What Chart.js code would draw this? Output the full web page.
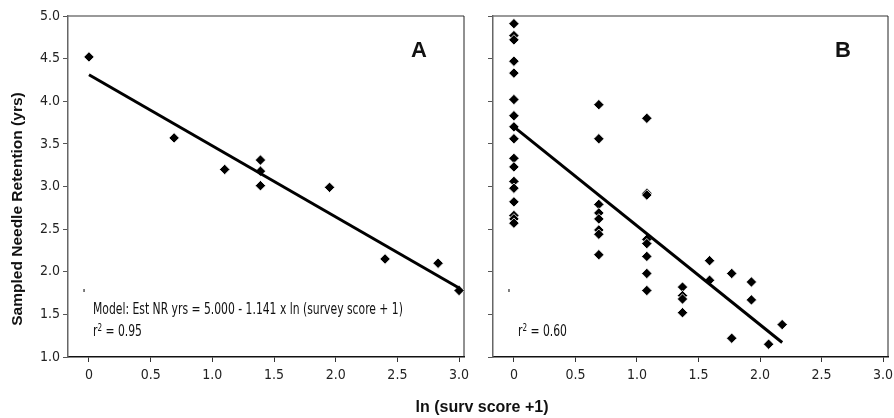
<!DOCTYPE html>
<html>
<head>
<meta charset="utf-8">
<script src="https://cdn.jsdelivr.net/npm/chart.js@4.4.1/dist/chart.umd.min.js"></script>
<style>
  html, body { margin: 0; padding: 0; background: #fff; }
  #wrap { position: relative; width: 894px; height: 418px; overflow: hidden; }
  #chartA { position: absolute; left: 0; top: 0; }
  #chartB { position: absolute; left: 470px; top: 0; }
  #xTitle {
    position: absolute; left: 0; width: 964px; top: 398px; text-align: center;
    font: bold 16px "Liberation Sans", Arial, sans-serif; color: #111;
  }
  #yTitle {
    position: absolute; left: 17px; top: 209px; width: 300px; margin-left: -150px;
    text-align: center; line-height: 18px; margin-top: -9px;
    transform: rotate(-90deg);
    font: bold 15.5px "Liberation Sans", Arial, sans-serif; color: #111;
  }
</style>
</head>
<body>
<div id="wrap">
  <canvas id="chartA" width="470" height="418"></canvas>
  <canvas id="chartB" width="424" height="418"></canvas>
  <div id="yTitle">Sampled Needle Retention (yrs)</div>
  <div id="xTitle">ln (surv score +1)</div>
</div>
<script>
// Panel A: one value per site
const aScore = [0, 0.69, 1.10, 1.39, 1.39, 1.39, 1.95, 2.40, 2.83, 3.00];
const aRetention = [4.52, 3.57, 3.20, 3.31, 3.18, 3.01, 2.99, 2.15, 2.10, 1.78];
const aFitX = [0, 3.0];
const aFitY = [4.31, 1.81];

// Panel B: individual trees
const bScore = [
  0, 0, 0, 0, 0, 0, 0, 0, 0, 0, 0, 0, 0, 0, 0, 0, 0,
  0.69, 0.69, 0.69, 0.69, 0.69, 0.69, 0.69, 0.69,
  1.08, 1.08, 1.08, 1.08, 1.08, 1.08, 1.08, 1.08,
  1.37, 1.37, 1.37, 1.37,
  1.59, 1.59,
  1.77, 1.77,
  1.93, 1.93,
  2.07,
  2.18
];
const bRetention = [
  4.91, 4.77, 4.72, 4.47, 4.33, 4.02, 3.83, 3.70, 3.56, 3.33, 3.23, 3.06, 2.98, 2.82, 2.66, 2.62, 2.57,
  3.96, 3.56, 2.79, 2.69, 2.62, 2.49, 2.44, 2.20,
  3.80, 2.92, 2.90, 2.38, 2.33, 2.18, 1.98, 1.78,
  1.82, 1.72, 1.68, 1.52,
  2.13, 1.90,
  1.98, 1.22,
  1.88, 1.67,
  1.15,
  1.38
];
const bFitX = [0, 2.18];
const bFitY = [3.70, 1.17];

const xTicks = [0, 0.5, 1.0, 1.5, 2.0, 2.5, 3.0];
const yTicks = [1.0, 1.5, 2.0, 2.5, 3.0, 3.5, 4.0, 4.5, 5.0];

// stray anchor dash near the lower left of each panel
const dashX = [-0.04];
const dashY = [1.78];

const narrow = '"Liberation Sans Narrow", "DejaVu Sans Condensed", Arial, sans-serif';
const bold = '"Liberation Sans", Arial, sans-serif';
const squeeze = 0.8;

function pairs(xs, ys) {
  return xs.map((x, i) => ({ x: x, y: ys[i] }));
}

// draws "r² = value" starting at x, centred on y
function drawR2(ctx, x, y, value) {
  ctx.save();
  ctx.translate(x, y);
  ctx.scale(squeeze, 1);
  ctx.textBaseline = 'middle';
  ctx.textAlign = 'left';
  ctx.font = '15px ' + narrow;
  ctx.fillText('r', 0, 0);
  let w = ctx.measureText('r').width;
  ctx.font = '10px ' + narrow;
  ctx.fillText('2', w, -4);
  w += ctx.measureText('2').width;
  ctx.font = '15px ' + narrow;
  ctx.fillText(' = ' + value, w, 0);
  ctx.restore();
}

function panelPlugin(letter, model, r2) {
  return {
    id: 'panelText' + letter,
    beforeDatasetsDraw(chart) {
      const { ctx, chartArea: a } = chart;
      ctx.save();
      // top and right edges of the frame
      ctx.strokeStyle = '#777';
      ctx.lineWidth = 1.5;
      ctx.beginPath();
      ctx.moveTo(a.left, a.top);
      ctx.lineTo(a.right, a.top);
      ctx.stroke();
      ctx.strokeStyle = '#222';
      ctx.lineWidth = 1;
      ctx.beginPath();
      ctx.moveTo(a.right, a.top);
      ctx.lineTo(a.right, a.bottom);
      ctx.stroke();
      ctx.restore();
    },
    afterDatasetsDraw(chart) {
      const { ctx, chartArea: a } = chart;
      ctx.save();
      ctx.fillStyle = '#111';
      ctx.font = 'bold 22px ' + bold;
      ctx.textAlign = 'center';
      ctx.textBaseline = 'middle';
      ctx.fillText(letter, a.right - 45, a.top + 35);
      if (model) {
        ctx.save();
        ctx.translate(a.left + 25, a.bottom - 47);
        ctx.scale(squeeze, 1);
        ctx.font = '15px ' + narrow;
        ctx.textAlign = 'left';
        ctx.fillText(model, 0, 0);
        ctx.restore();
      }
      drawR2(ctx, a.left + 25, a.bottom - 25, r2);
      ctx.restore();
    }
  };
}

function makeOptions(showY, yWidth, padRight) {
  return {
    responsive: false,
    animation: false,
    events: [],
    layout: { padding: { top: 16, right: padRight, left: 0, bottom: 0 } },
    plugins: { legend: { display: false }, tooltip: { enabled: false } },
    scales: {
      x: {
        type: 'linear',
        min: -0.17,
        max: 3.04,
        afterBuildTicks(scale) { scale.ticks = xTicks.map(v => ({ value: v })); },
        afterFit(scale) {
          scale.height = 61;
          scale.paddingLeft = 0;
          scale.paddingRight = 0;
        },
        ticks: {
          autoSkip: false,
          maxRotation: 0,
          padding: 5,
          color: '#222',
          font: { family: narrow, size: 14 },
          callback: v => (v === 0 ? '0' : v.toFixed(1))
        },
        grid: { drawOnChartArea: false, drawTicks: true, tickLength: 5, color: '#333' },
        border: { display: true, color: '#111', width: 1.5 }
      },
      y: {
        type: 'linear',
        min: 1.0,
        max: 5.0,
        afterBuildTicks(scale) { scale.ticks = yTicks.map(v => ({ value: v })); },
        afterFit(scale) {
          scale.width = yWidth;
          scale.paddingTop = 0;
          scale.paddingBottom = 0;
        },
        ticks: {
          display: showY,
          autoSkip: false,
          padding: 3,
          color: '#222',
          font: { family: narrow, size: 14 },
          callback: v => v.toFixed(1)
        },
        grid: { drawOnChartArea: false, drawTicks: true, tickLength: 5, color: '#555' },
        border: { display: true, color: '#666', width: 1.5 }
      }
    }
  };
}

function makeDatasets(xs, ys, fitX, fitY) {
  return [
    {
      type: 'line',
      data: pairs(fitX, fitY),
      borderColor: '#000',
      borderWidth: 3,
      pointRadius: 0,
      fill: false
    },
    {
      type: 'scatter',
      data: pairs(xs, ys),
      pointStyle: 'rectRot',
      pointRadius: 5.2,
      backgroundColor: '#000',
      borderColor: '#fff',
      borderWidth: 0.8
    },
    {
      type: 'scatter',
      data: pairs(dashX, dashY),
      pointStyle: 'line',
      rotation: 90,
      pointRadius: 1.5,
      borderColor: '#000',
      borderWidth: 1
    }
  ];
}

new Chart(document.getElementById('chartA'), {
  type: 'scatter',
  data: { datasets: makeDatasets(aScore, aRetention, aFitX, aFitY) },
  options: makeOptions(true, 68, 6),
  plugins: [panelPlugin('A', 'Model: Est NR yrs = 5.000 - 1.141 x ln (survey score + 1)', '0.95')]
});

new Chart(document.getElementById('chartB'), {
  type: 'scatter',
  data: { datasets: makeDatasets(bScore, bRetention, bFitX, bFitY) },
  options: makeOptions(false, 23, 4),
  plugins: [panelPlugin('B', null, '0.60')]
});
</script>
</body>
</html>
